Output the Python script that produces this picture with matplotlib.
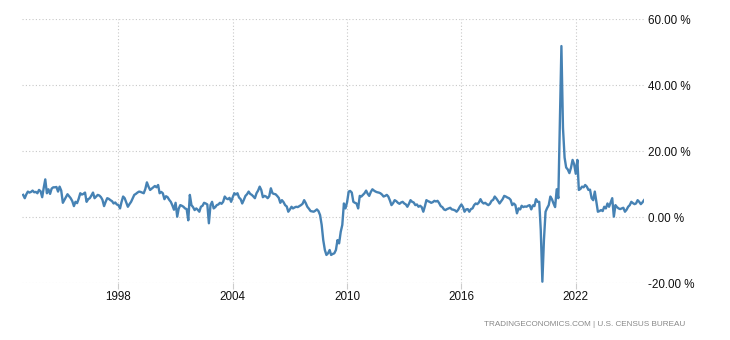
import numpy as np
import pandas as pd
import matplotlib
matplotlib.use('Agg')
import matplotlib.pyplot as plt
import matplotlib.dates as mdates
from matplotlib.ticker import FuncFormatter

# monthly retail sales yoy (%), Jan 1993 .. Aug 2025
y1993 = [6.7, 5.7, 6.8, 7.7, 7.4, 7.6, 8.0, 7.5, 7.6, 7.2, 8.2, 7.8]
y1994 = [6.0, 9.0, 11.4, 7.2, 8.4, 7.0, 8.6, 9.0, 9.0, 9.1, 7.7, 9.2]
y1995 = [8.0, 4.3, 5.1, 6.0, 6.9, 6.3, 5.7, 4.8, 3.3, 4.6, 4.2, 5.5]
y1996 = [7.2, 6.8, 7.0, 7.4, 4.6, 5.4, 5.7, 6.5, 7.4, 5.7, 6.2, 6.7]
y1997 = [6.5, 6.0, 5.2, 3.3, 4.6, 5.7, 5.5, 5.1, 4.8, 4.1, 4.4, 3.8]
y1998 = [3.6, 2.6, 4.5, 6.2, 5.7, 4.4, 3.1, 3.9, 4.6, 5.6, 6.7, 7.0]
y1999 = [7.4, 7.7, 7.6, 7.4, 7.2, 8.5, 10.5, 9.2, 8.2, 8.6, 9.0, 9.4]
y2000 = [9.0, 9.7, 7.2, 7.6, 7.2, 5.4, 6.3, 6.0, 5.2, 4.6, 3.5, 2.2]
y2001 = [4.3, 0.1, 2.5, 3.6, 3.4, 3.1, 2.6, 2.4, -1.0, 6.7, 3.6, 3.0]
y2002 = [2.1, 2.6, 2.2, 1.6, 3.1, 3.4, 4.3, 4.1, 3.8, -1.9, 3.6, 4.6]
y2003 = [2.6, 3.0, 3.6, 3.8, 4.3, 4.0, 4.6, 6.2, 5.6, 5.4, 5.8, 4.6]
y2004 = [6.0, 7.2, 6.8, 7.2, 5.9, 5.4, 4.1, 5.2, 6.4, 6.9, 7.7, 7.0]
y2005 = [6.7, 6.2, 5.7, 7.2, 8.0, 9.2, 8.2, 6.0, 6.4, 6.2, 5.7, 6.3]
y2006 = [8.7, 7.2, 7.0, 6.9, 6.4, 5.8, 4.3, 5.1, 4.5, 3.6, 3.2, 1.6]
y2007 = [2.3, 3.1, 2.6, 2.9, 3.1, 3.0, 3.3, 3.6, 4.0, 5.1, 4.2, 3.1]
y2008 = [2.5, 1.8, 1.7, 1.6, 1.9, 2.3, 1.8, 0.6, -2.4, -7.0, -10.0, -11.5]
y2009 = [-11.0, -10.0, -11.5, -11.2, -11.0, -10.0, -7.0, -8.0, -4.5, -2.4, 4.1, 2.6]
y2010 = [4.5, 7.7, 7.9, 7.4, 4.6, 4.3, 4.1, 2.6, 6.4, 6.2, 6.7, 7.2]
y2011 = [8.0, 7.0, 6.4, 7.6, 8.4, 8.0, 7.7, 7.5, 7.4, 7.2, 6.8, 6.2]
y2012 = [6.4, 6.7, 6.2, 5.0, 3.6, 4.2, 5.1, 4.8, 4.3, 4.0, 4.4, 4.6]
y2013 = [4.1, 3.8, 3.1, 4.0, 5.1, 4.6, 4.4, 3.6, 3.8, 3.1, 3.4, 3.0]
y2014 = [1.6, 3.3, 5.1, 4.8, 4.6, 4.3, 4.5, 4.9, 4.7, 4.9, 4.2, 3.3]
y2015 = [3.0, 2.3, 2.1, 2.4, 2.6, 2.8, 2.3, 2.2, 2.0, 1.6, 2.2, 3.1]
y2016 = [3.8, 3.0, 1.6, 2.3, 2.4, 1.6, 2.4, 2.6, 3.6, 4.1, 3.9, 4.4]
y2017 = [5.4, 4.5, 4.1, 4.3, 3.9, 3.6, 4.0, 4.9, 5.2, 6.2, 5.6, 4.9]
y2018 = [4.1, 4.8, 5.4, 6.4, 6.2, 5.9, 5.7, 5.2, 3.6, 4.1, 3.6, 1.1]
y2019 = [2.6, 2.3, 3.4, 3.0, 3.2, 3.1, 3.4, 3.6, 2.3, 3.5, 3.3, 5.4]
y2020 = [4.6, 4.6, -3.9, -19.6, -7.0, 1.6, 2.7, 3.6, 6.2, 5.4, 4.1, 3.0]
y2021 = [8.4, 5.7, 27.0, 51.8, 27.0, 18.0, 15.0, 14.4, 13.3, 14.9, 17.3, 16.0]
y2022 = [13.1, 17.3, 8.2, 8.5, 9.2, 9.0, 9.7, 9.2, 8.2, 8.3, 5.7, 5.1]
y2023 = [7.7, 4.6, 1.6, 1.8, 2.1, 1.8, 3.1, 2.6, 4.1, 3.1, 4.4, 5.7]
y2024 = [0.1, 3.6, 3.0, 2.6, 2.4, 2.6, 2.8, 1.6, 2.2, 3.1, 3.6, 4.6]
y2025 = [4.2, 3.9, 4.1, 5.1, 4.6, 3.9, 4.4, 5.1]

values = (y1993 + y1994 + y1995 + y1996 + y1997 + y1998 + y1999 + y2000 +
          y2001 + y2002 + y2003 + y2004 + y2005 + y2006 + y2007 + y2008 +
          y2009 + y2010 + y2011 + y2012 + y2013 + y2014 + y2015 + y2016 +
          y2017 + y2018 + y2019 + y2020 + y2021 + y2022 + y2023 + y2024 +
          y2025)
dates = pd.date_range('1993-01-01', periods=len(values), freq='MS')

y_ticks = [-20, 0, 20, 40, 60]
source = 'TRADINGECONOMICS.COM | U.S. CENSUS BUREAU'

plt.rcParams['font.family'] = ['Liberation Sans', 'DejaVu Sans']

fig = plt.figure(figsize=(7.3, 3.4), dpi=100)
ax = fig.add_axes([22 / 730, 57 / 340, 622 / 730, 264 / 340])

ax.plot(dates, values, color='#4682b4', lw=1.7, solid_joinstyle='round')

ax.set_ylim(-20, 60)
ax.set_xlim(dates[0] - pd.Timedelta(days=22), dates[-1])
ax.set_yticks(y_ticks)
ax.yaxis.set_major_formatter(FuncFormatter(lambda v, p: '%.2f %%' % v))
ax.yaxis.tick_right()
ax.tick_params(axis='y', length=0, pad=3, labelsize=8.4, colors='#111111')

ax.xaxis.set_major_locator(mdates.YearLocator(6))
ax.xaxis.set_major_formatter(mdates.DateFormatter('%Y'))
ax.tick_params(axis='x', length=4, width=0.8, color='#cccccc', pad=2,
               labelsize=8.4, labelcolor='#111111')

ax.grid(True, color='#c8c8c8', linestyle=(0, (1, 2)), linewidth=0.8)
for s in ax.spines.values():
    s.set_visible(False)

fig.text(685 / 730, 1 - 325 / 340, source, ha='right', va='center',
         fontsize=5.9, color='#888888')

fig.savefig('out.png', dpi=100)
